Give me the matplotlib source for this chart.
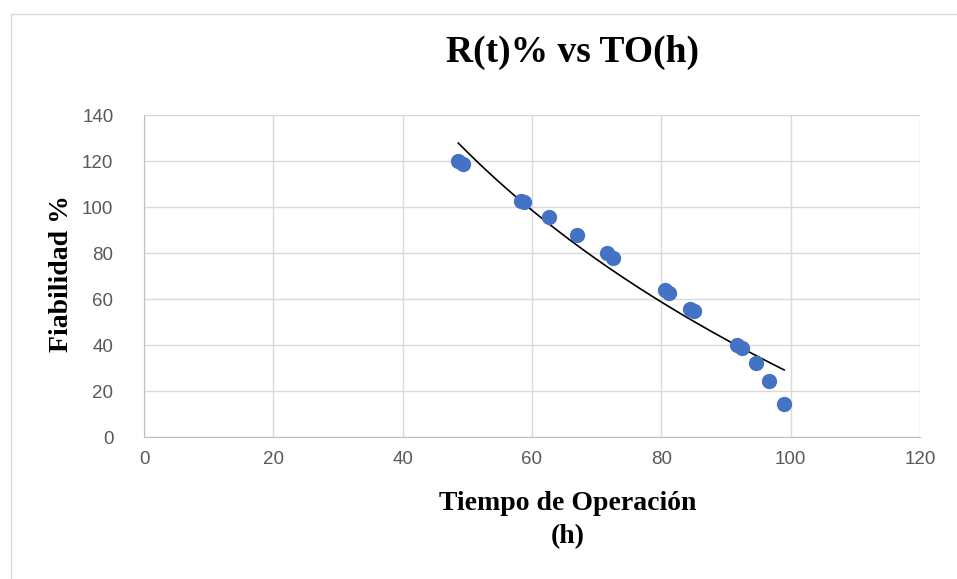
import numpy as np
import matplotlib.pyplot as plt
from matplotlib.lines import Line2D

# data
tiempo = [48.6, 49.3, 58.3, 58.8, 62.6, 67.0, 71.6, 72.5, 80.6, 81.2,
          84.5, 85.0, 91.7, 92.4, 94.7, 96.7, 99.0]
fiabilidad = [120.0, 118.5, 102.5, 102.0, 95.5, 88.0, 80.0, 78.0, 64.0, 62.5,
              55.5, 55.0, 40.0, 38.5, 32.0, 24.5, 14.5]
x_ticks = [0, 20, 40, 60, 80, 100, 120]
y_ticks = [0, 20, 40, 60, 80, 100, 120, 140]

serif = ['Liberation Serif', 'DejaVu Serif']
sans = ['Liberation Sans', 'DejaVu Sans']

fig = plt.figure(figsize=(9.57, 5.79), dpi=100)
ax = fig.add_axes([144/957, 1 - 437/579, 776/957, 322/579])

# logarithmic trend line (as Excel draws it)
b, a = np.polyfit(np.log(tiempo), fiabilidad, 1)
xt = np.linspace(min(tiempo), max(tiempo), 200)
ax.plot(xt, a + b*np.log(xt), color='black', lw=1.2, zorder=3)

ax.plot(tiempo, fiabilidad, 'o', color='#4472C4', ms=10, mec='#4472C4', zorder=4)

ax.set_xlim(0, 120)
ax.set_ylim(0, 140)
ax.set_xticks(x_ticks)
ax.set_yticks(y_ticks)
ax.grid(True, color='#d9d9d9', lw=1)
ax.set_axisbelow(True)
for s in ['top', 'right']:
    ax.spines[s].set_visible(False)
for s in ['left', 'bottom']:
    ax.spines[s].set_color('#bfbfbf')
ax.tick_params(length=0, colors='#595959', labelsize=13.5)
ax.tick_params(axis='y', pad=22)
ax.tick_params(axis='x', pad=10)
for lab in ax.get_xticklabels() + ax.get_yticklabels():
    lab.set_family(sans)

fig.text(572/957, 1 - 52/579, 'R(t)% vs TO(h)', family=serif, weight='bold',
         fontsize=27, ha='center', va='center')
fig.text(62/957, 1 - 274/579, 'Fiabilidad %', family=serif, weight='bold',
         fontsize=20, rotation=90, ha='center', va='center')
fig.text(568/957, 1 - 520/579, 'Tiempo de Operación\n(h)', family=serif,
         weight='bold', fontsize=20, ha='center', va='center', linespacing=1.4)

# chart area border
fig.add_artist(Line2D([11/957, 11/957], [0, 1 - 14/579], color='#d9d9d9', lw=1))
fig.add_artist(Line2D([11/957, 1], [1 - 14/579, 1 - 14/579], color='#d9d9d9', lw=1))

fig.savefig('out.png', dpi=100)
